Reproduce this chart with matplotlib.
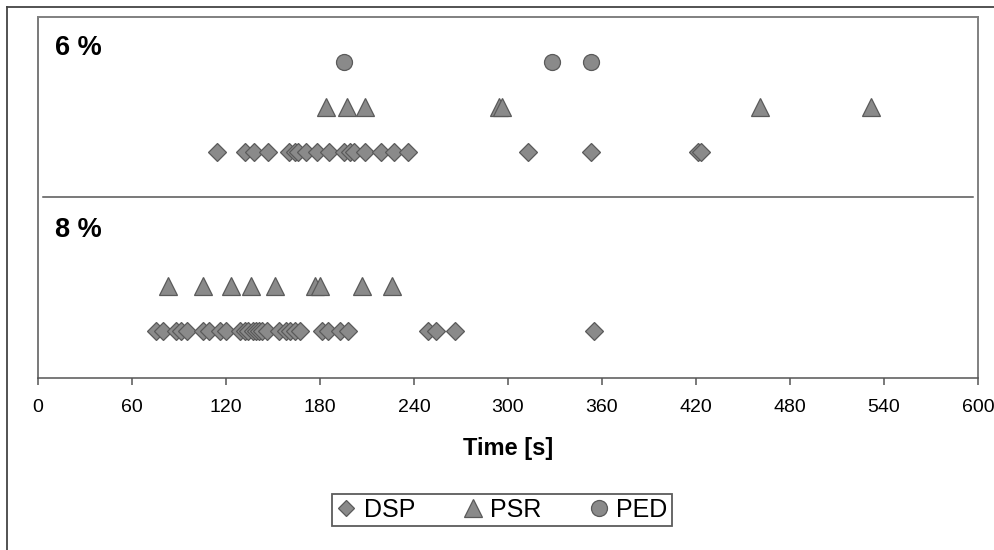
import numpy as np
import matplotlib.pyplot as plt
from matplotlib.lines import Line2D

plt.rcParams['font.family'] = ['Liberation Sans', 'DejaVu Sans']

# detection times [s]
dsp_6 = [114, 132, 138, 147, 160, 164, 166, 171, 178, 186, 195, 199, 202, 209,
         219, 227, 236, 313, 353, 421, 423]
psr_6 = [184, 197, 209, 294, 296, 461, 532]
ped_6 = [195, 328, 353]

dsp_8 = [75, 80, 88, 91, 95, 105, 109, 116, 120, 129, 132, 134, 137, 139, 141,
         143, 146, 154, 158, 161, 164, 167, 181, 185, 193, 198, 249, 254, 266, 355]
psr_8 = [83, 105, 123, 136, 151, 177, 180, 207, 226]

# row positions (categories) inside each panel
row_6 = {'DSP': 5, 'PSR': 6, 'PED': 7}
row_8 = {'DSP': 1, 'PSR': 2}
divider = 4

xticks = list(range(0, 601, 60))

fc = '#8a8a8a'
ec = '#5a5a5a'
styles = {'DSP': dict(marker='D', ms=9.3, mew=0.9),
          'PSR': dict(marker='^', ms=12.5, mew=0.9),
          'PED': dict(marker='o', ms=11.5, mew=0.9)}

fig = plt.figure(figsize=(9.95, 5.5), dpi=100)
ax = fig.add_axes([38 / 995, 1 - 378 / 550, (978 - 38) / 995, (378 - 17) / 550])

for name, xs in [('DSP', dsp_6), ('PSR', psr_6), ('PED', ped_6)]:
    ax.plot(xs, [row_6[name]] * len(xs), ls='none', mfc=fc, mec=ec, **styles[name])
for name, xs in [('DSP', dsp_8), ('PSR', psr_8)]:
    ax.plot(xs, [row_8[name]] * len(xs), ls='none', mfc=fc, mec=ec, **styles[name])

ax.axhline(divider, xmin=0.005, xmax=0.995, color='#555555', lw=1.1)

ax.text(0.018, 0.915, '6 %', transform=ax.transAxes, fontsize=19.5, fontweight='bold',
        va='center', ha='left')
ax.text(0.018, 0.41, '8 %', transform=ax.transAxes, fontsize=19.5, fontweight='bold',
        va='center', ha='left')

ax.set_xlim(0, 600)
ax.set_ylim(-0.04, 8.0)
ax.set_xticks(xticks)
ax.set_yticks([])
ax.tick_params(axis='x', direction='out', length=5, width=1.1, color='#555555',
               labelsize=14, pad=10)
ax.set_xlabel('Time [s]', fontsize=17, fontweight='bold', labelpad=15)

for s in ['top', 'right']:
    ax.spines[s].set_color('#808080')
    ax.spines[s].set_linewidth(1.4)
for s in ['left', 'bottom']:
    ax.spines[s].set_color('#555555')
    ax.spines[s].set_linewidth(1.1)

# outer chart frame (left and top edges)
fig.add_artist(Line2D([7 / 995, 7 / 995], [0, 1 - 7 / 550], color='#444444', lw=1.3))
fig.add_artist(Line2D([7 / 995, 1], [1 - 7 / 550, 1 - 7 / 550], color='#444444', lw=1.3))

handles = [Line2D([], [], ls='none', mfc=fc, mec=ec, marker='D', ms=8.5, mew=0.9),
           Line2D([], [], ls='none', mfc=fc, mec=ec, marker='^', ms=12.5, mew=0.9),
           Line2D([], [], ls='none', mfc=fc, mec=ec, marker='o', ms=11.5, mew=0.9)]
leg = fig.legend(handles, ['DSP', 'PSR', 'PED'], loc='center', ncol=3,
                 bbox_to_anchor=(502 / 995, 1 - 510 / 550), fontsize=18,
                 frameon=True, fancybox=False, borderpad=0.15, handlelength=0.8,
                 handletextpad=0.3, columnspacing=1.9, borderaxespad=0)
leg.get_frame().set_edgecolor('#333333')
leg.get_frame().set_linewidth(1.3)

fig.savefig('out.png', dpi=100)
